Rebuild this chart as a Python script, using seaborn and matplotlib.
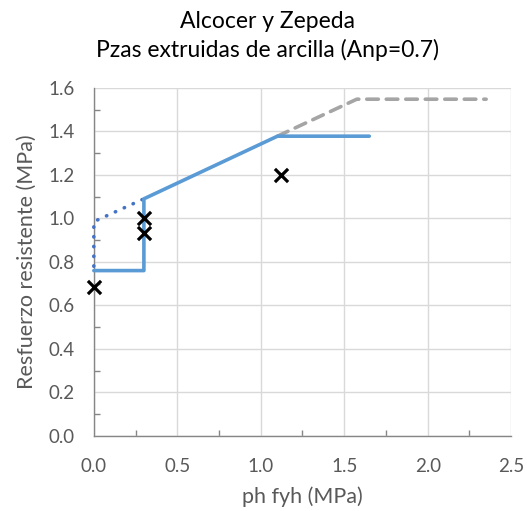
import matplotlib
matplotlib.use("Agg")
import matplotlib.pyplot as plt
import seaborn as sns
import pandas as pd
from matplotlib.ticker import MultipleLocator, FormatStrFormatter

sns.set_theme(style="white")
plt.rcParams['font.family'] = ['Lato', 'DejaVu Sans']

# Resistance envelope (solid blue)
env_x = [0.0, 0.3, 0.3, 1.1, 1.65]
env_y = [0.76, 0.76, 1.09, 1.378, 1.378]

# Transition near zero reinforcement (dotted)
dot_x = [0.0, 0.0, 0.3]
dot_y = [0.78, 0.985, 1.09]

# Extension beyond the upper limit (grey dashed)
ext_x = [1.1, 1.575, 2.35]
ext_y = [1.378, 1.548, 1.548]

# Test results
test_x = [0.0, 0.3, 0.3, 1.12]
test_y = [0.684, 1.001, 0.935, 1.2]

fig, ax = plt.subplots(figsize=(5.27, 5.11), dpi=100)
fig.subplots_adjust(left=0.178, right=0.970, top=0.828, bottom=0.147)

sns.lineplot(data=pd.DataFrame({"x": ext_x, "y": ext_y}), x="x", y="y", sort=False,
             estimator=None, ax=ax, color="#A5A5A5", lw=2.6, zorder=3)
ax.lines[-1].set_dashes([3.2, 2.2])
ax.lines[-1].set_dash_capstyle("round")
sns.lineplot(data=pd.DataFrame({"x": dot_x, "y": dot_y}), x="x", y="y", sort=False,
             estimator=None, ax=ax, color="#4472C4", lw=2.6, zorder=3)
ax.lines[-1].set_dashes([0.1, 2.6])
ax.lines[-1].set_dash_capstyle("round")
sns.lineplot(data=pd.DataFrame({"x": env_x, "y": env_y}), x="x", y="y", sort=False,
             estimator=None, ax=ax, color="#5B9BD5", lw=2.6, zorder=4)
sns.scatterplot(data=pd.DataFrame({"x": test_x, "y": test_y}), x="x", y="y", ax=ax,
                marker="x", color="black", s=90, linewidth=2.3, zorder=5)
for ln in ax.lines:
    ln.set_clip_on(False)
for c in ax.collections:
    c.set_clip_on(False)

ax.set_xlim(0, 2.5)
ax.set_ylim(0, 1.6)
ax.xaxis.set_major_locator(MultipleLocator(0.5))
ax.xaxis.set_minor_locator(MultipleLocator(0.25))
ax.yaxis.set_major_locator(MultipleLocator(0.2))
ax.yaxis.set_minor_locator(MultipleLocator(0.1))
ax.xaxis.set_major_formatter(FormatStrFormatter("%.1f"))
ax.yaxis.set_major_formatter(FormatStrFormatter("%.1f"))

ax.grid(True, which="major", color="#D9D9D9", lw=1.0)
ax.set_axisbelow(True)
for s in ["top", "right"]:
    ax.spines[s].set_visible(False)
for s in ["left", "bottom"]:
    ax.spines[s].set_color("#868686")
    ax.spines[s].set_linewidth(1.0)
ax.tick_params(which="major", length=0, labelsize=13.5, labelcolor="#595959")
ax.tick_params(axis="y", which="major", pad=14)
ax.tick_params(axis="x", which="major", pad=16)
ax.tick_params(which="minor", direction="in", length=4, color="#868686", width=1.0)
ax.tick_params(axis="x", which="minor", bottom=True)
ax.tick_params(axis="y", which="minor", left=True)

ax.set_xlabel("ph fyh (MPa)", fontsize=15.5, color="#595959", labelpad=8)
ax.set_ylabel("Resfuerzo resistente (MPa)", fontsize=15.5, color="#595959", labelpad=8)

fig.text(267 / 527, 1 - 21 / 511, "Alcocer y Zepeda", ha="center", va="center",
         fontsize=16.5, color="black")
fig.text(267 / 527, 1 - 50 / 511, "Pzas extruidas de arcilla (Anp=0.7)", ha="center",
         va="center", fontsize=16.5, color="black")

fig.savefig("out.png", dpi=100, facecolor="white")
